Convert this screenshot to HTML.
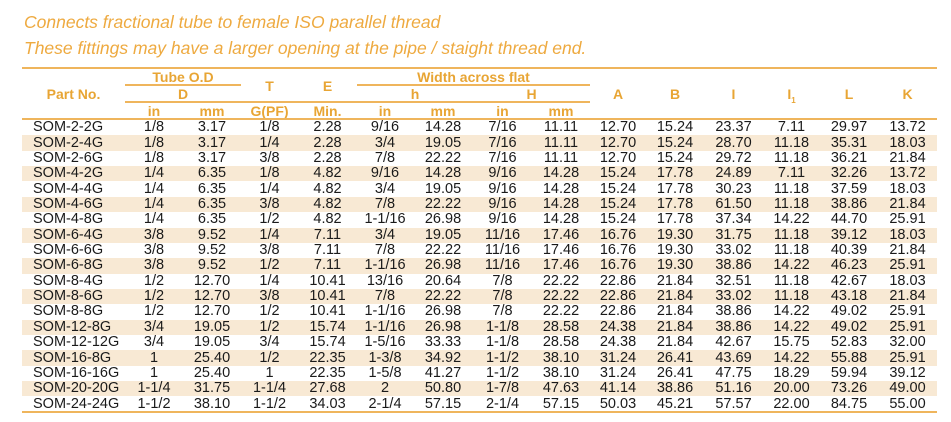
<!DOCTYPE html>
<html><head><meta charset="utf-8"><style>
body{margin:0;width:951px;height:422px;background:#fff;position:relative;overflow:hidden;font-family:"Liberation Sans",Arial,sans-serif}
.t{position:absolute;left:24px;font-style:italic;color:#eeaa40;font-size:17.5px;white-space:nowrap}
.h{position:absolute;color:#e8a534;font-weight:bold;font-size:14px;text-align:center;white-space:nowrap;line-height:16px}
.l{position:absolute;height:2px;background:#efb55c}
table{position:absolute;left:22px;top:120px;border-collapse:collapse;table-layout:fixed;width:915px;font-size:14.5px;color:#1a1a1a}
td{height:15.37px;padding:0;line-height:15px;text-align:center;white-space:nowrap;overflow:visible}
td:first-child{text-align:left;padding-left:11px}
tr:nth-child(even){background:#f8e9d4}
</style></head><body>
<div class="t" style="top:12px">Connects fractional tube to female ISO parallel thread</div>
<div class="t" style="top:38px">These fittings may have a larger opening at the pipe / staight thread end.</div>
<div class="l" style="left:22px;top:67px;width:915px"></div>
<div class="h" style="left:22px;width:103px;top:86px">Part No.</div>
<div class="h" style="left:125px;width:116px;top:69px">Tube O.D</div>
<div class="l" style="left:125px;top:84px;width:116px;height:1.5px"></div>
<div class="h" style="left:125px;width:116px;top:86px">D</div>
<div class="h" style="left:241px;width:57px;top:78px">T</div>
<div class="h" style="left:298px;width:59px;top:78px">E</div>
<div class="h" style="left:357px;width:233px;top:69px">Width across flat</div>
<div class="l" style="left:357px;top:84px;width:233px;height:1.5px"></div>
<div class="h" style="left:357px;width:116px;top:86px">h</div>
<div class="h" style="left:473px;width:117px;top:86px">H</div>
<div class="l" style="left:125px;top:101px;width:465px;height:1.5px"></div>
<div class="h" style="left:125px;width:58px;top:103px">in</div>
<div class="h" style="left:183px;width:58px;top:103px">mm</div>
<div class="h" style="left:241px;width:57px;top:103px">G(PF)</div>
<div class="h" style="left:298px;width:59px;top:103px">Min.</div>
<div class="h" style="left:357px;width:56px;top:103px">in</div>
<div class="h" style="left:413px;width:60px;top:103px">mm</div>
<div class="h" style="left:473px;width:59px;top:103px">in</div>
<div class="h" style="left:532px;width:58px;top:103px">mm</div>
<div class="h" style="left:590px;width:56px;top:86px">A</div>
<div class="h" style="left:646px;width:58px;top:86px">B</div>
<div class="h" style="left:704px;width:59px;top:86px">I</div>
<div class="h" style="left:763px;width:57px;top:86px">I<sub style="font-size:8px">1</sub></div>
<div class="h" style="left:820px;width:58px;top:86px">L</div>
<div class="h" style="left:878px;width:59px;top:86px">K</div>
<div class="l" style="left:22px;top:118px;width:915px;height:1.5px"></div>
<table>
<colgroup><col style="width:103px"><col style="width:58px"><col style="width:58px"><col style="width:57px"><col style="width:59px"><col style="width:56px"><col style="width:60px"><col style="width:59px"><col style="width:58px"><col style="width:56px"><col style="width:58px"><col style="width:59px"><col style="width:57px"><col style="width:58px"><col style="width:59px"></colgroup>
<tr><td>SOM-2-2G</td><td>1/8</td><td>3.17</td><td>1/8</td><td>2.28</td><td>9/16</td><td>14.28</td><td>7/16</td><td>11.11</td><td>12.70</td><td>15.24</td><td>23.37</td><td>7.11</td><td>29.97</td><td>13.72</td></tr>
<tr><td>SOM-2-4G</td><td>1/8</td><td>3.17</td><td>1/4</td><td>2.28</td><td>3/4</td><td>19.05</td><td>7/16</td><td>11.11</td><td>12.70</td><td>15.24</td><td>28.70</td><td>11.18</td><td>35.31</td><td>18.03</td></tr>
<tr><td>SOM-2-6G</td><td>1/8</td><td>3.17</td><td>3/8</td><td>2.28</td><td>7/8</td><td>22.22</td><td>7/16</td><td>11.11</td><td>12.70</td><td>15.24</td><td>29.72</td><td>11.18</td><td>36.21</td><td>21.84</td></tr>
<tr><td>SOM-4-2G</td><td>1/4</td><td>6.35</td><td>1/8</td><td>4.82</td><td>9/16</td><td>14.28</td><td>9/16</td><td>14.28</td><td>15.24</td><td>17.78</td><td>24.89</td><td>7.11</td><td>32.26</td><td>13.72</td></tr>
<tr><td>SOM-4-4G</td><td>1/4</td><td>6.35</td><td>1/4</td><td>4.82</td><td>3/4</td><td>19.05</td><td>9/16</td><td>14.28</td><td>15.24</td><td>17.78</td><td>30.23</td><td>11.18</td><td>37.59</td><td>18.03</td></tr>
<tr><td>SOM-4-6G</td><td>1/4</td><td>6.35</td><td>3/8</td><td>4.82</td><td>7/8</td><td>22.22</td><td>9/16</td><td>14.28</td><td>15.24</td><td>17.78</td><td>61.50</td><td>11.18</td><td>38.86</td><td>21.84</td></tr>
<tr><td>SOM-4-8G</td><td>1/4</td><td>6.35</td><td>1/2</td><td>4.82</td><td>1-1/16</td><td>26.98</td><td>9/16</td><td>14.28</td><td>15.24</td><td>17.78</td><td>37.34</td><td>14.22</td><td>44.70</td><td>25.91</td></tr>
<tr><td>SOM-6-4G</td><td>3/8</td><td>9.52</td><td>1/4</td><td>7.11</td><td>3/4</td><td>19.05</td><td>11/16</td><td>17.46</td><td>16.76</td><td>19.30</td><td>31.75</td><td>11.18</td><td>39.12</td><td>18.03</td></tr>
<tr><td>SOM-6-6G</td><td>3/8</td><td>9.52</td><td>3/8</td><td>7.11</td><td>7/8</td><td>22.22</td><td>11/16</td><td>17.46</td><td>16.76</td><td>19.30</td><td>33.02</td><td>11.18</td><td>40.39</td><td>21.84</td></tr>
<tr><td>SOM-6-8G</td><td>3/8</td><td>9.52</td><td>1/2</td><td>7.11</td><td>1-1/16</td><td>26.98</td><td>11/16</td><td>17.46</td><td>16.76</td><td>19.30</td><td>38.86</td><td>14.22</td><td>46.23</td><td>25.91</td></tr>
<tr><td>SOM-8-4G</td><td>1/2</td><td>12.70</td><td>1/4</td><td>10.41</td><td>13/16</td><td>20.64</td><td>7/8</td><td>22.22</td><td>22.86</td><td>21.84</td><td>32.51</td><td>11.18</td><td>42.67</td><td>18.03</td></tr>
<tr><td>SOM-8-6G</td><td>1/2</td><td>12.70</td><td>3/8</td><td>10.41</td><td>7/8</td><td>22.22</td><td>7/8</td><td>22.22</td><td>22.86</td><td>21.84</td><td>33.02</td><td>11.18</td><td>43.18</td><td>21.84</td></tr>
<tr><td>SOM-8-8G</td><td>1/2</td><td>12.70</td><td>1/2</td><td>10.41</td><td>1-1/16</td><td>26.98</td><td>7/8</td><td>22.22</td><td>22.86</td><td>21.84</td><td>38.86</td><td>14.22</td><td>49.02</td><td>25.91</td></tr>
<tr><td>SOM-12-8G</td><td>3/4</td><td>19.05</td><td>1/2</td><td>15.74</td><td>1-1/16</td><td>26.98</td><td>1-1/8</td><td>28.58</td><td>24.38</td><td>21.84</td><td>38.86</td><td>14.22</td><td>49.02</td><td>25.91</td></tr>
<tr><td>SOM-12-12G</td><td>3/4</td><td>19.05</td><td>3/4</td><td>15.74</td><td>1-5/16</td><td>33.33</td><td>1-1/8</td><td>28.58</td><td>24.38</td><td>21.84</td><td>42.67</td><td>15.75</td><td>52.83</td><td>32.00</td></tr>
<tr><td>SOM-16-8G</td><td>1</td><td>25.40</td><td>1/2</td><td>22.35</td><td>1-3/8</td><td>34.92</td><td>1-1/2</td><td>38.10</td><td>31.24</td><td>26.41</td><td>43.69</td><td>14.22</td><td>55.88</td><td>25.91</td></tr>
<tr><td>SOM-16-16G</td><td>1</td><td>25.40</td><td>1</td><td>22.35</td><td>1-5/8</td><td>41.27</td><td>1-1/2</td><td>38.10</td><td>31.24</td><td>26.41</td><td>47.75</td><td>18.29</td><td>59.94</td><td>39.12</td></tr>
<tr><td>SOM-20-20G</td><td>1-1/4</td><td>31.75</td><td>1-1/4</td><td>27.68</td><td>2</td><td>50.80</td><td>1-7/8</td><td>47.63</td><td>41.14</td><td>38.86</td><td>51.16</td><td>20.00</td><td>73.26</td><td>49.00</td></tr>
<tr><td>SOM-24-24G</td><td>1-1/2</td><td>38.10</td><td>1-1/2</td><td>34.03</td><td>2-1/4</td><td>57.15</td><td>2-1/4</td><td>57.15</td><td>50.03</td><td>45.21</td><td>57.57</td><td>22.00</td><td>84.75</td><td>55.00</td></tr>
</table>
<div class="l" style="left:22px;top:411px;width:915px"></div>
</body></html>
